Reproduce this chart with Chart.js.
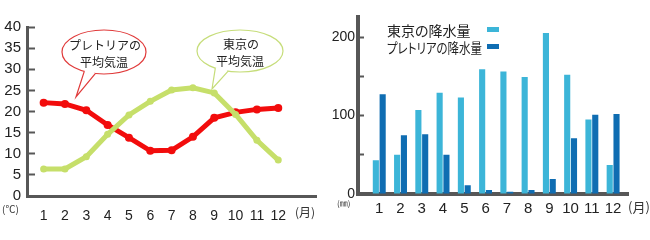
<!DOCTYPE html>
<html>
<head>
<meta charset="utf-8">
<script src="https://cdn.jsdelivr.net/npm/chart.js@4"></script>
<style>
body { margin: 0; background: #fff; width: 650px; height: 240px; position: relative; overflow: hidden; }
.box { position: absolute; top: 0; width: 325px; height: 240px; }
#rain-legend { position: absolute; left: 387px; top: 21px; font-family: "Noto Sans CJK JP", sans-serif; font-size: 14px; color: #222; font-feature-settings: "palt"; }
#rain-legend .row { display: flex; align-items: center; height: 17px; }
#rain-legend .cell { width: 100px; overflow: visible; }
#rain-legend .txt { display: inline-block; line-height: 17px; white-space: nowrap; transform-origin: left center; }
#rain-legend .sw { width: 12px; height: 5px; }
</style>
</head>
<body>
<div class="box" style="left:0"><canvas id="tempChart" width="325" height="240"></canvas></div>
<div class="box" style="left:325px"><canvas id="rainChart" width="325" height="240"></canvas></div>
<div id="rain-legend"></div>
<script>
// months / ticks
const months = [1, 2, 3, 4, 5, 6, 7, 8, 9, 10, 11, 12];
const tempTicks = [0, 5, 10, 15, 20, 25, 30, 35, 40];
const rainTicks = [0, 50, 100, 150, 200];

// 平均気温 (℃)
const pretoriaTemp = [22.1, 21.8, 20.3, 16.8, 13.8, 10.7, 10.8, 14.0, 18.5, 19.8, 20.5, 20.8];
const tokyoTemp = [6.4, 6.4, 9.3, 14.6, 19.2, 22.4, 25.1, 25.6, 24.4, 19.3, 13.2, 8.5];

// 降水量 (mm)
const tokyoRain = [43, 50, 107, 129, 123, 159, 156, 149, 205, 152, 95, 37];
const pretoriaRain = [127, 75, 76, 50, 11, 5, 3, 5, 19, 71, 101, 102];

const axisColor = "#575757";
const numFont = "'Liberation Sans', sans-serif";

// speech bubbles on the temperature chart
const bubbles = [
    { lines: ["プレトリアの", "平均気温"], cx: 104, cy: 52, rx: 42, ry: 22, a1: 118, a2: 102, tip: [76, 97], color: "#e03a3a" },
    { lines: ["東京の", "平均気温"], cx: 240, cy: 51, rx: 43, ry: 21, a1: 125, a2: 106, tip: [212, 89], color: "#c6dd7a" }
];

const bubblePlugin = {
    id: "bubbles",
    beforeDatasetsDraw(chart) {
        const ctx = chart.ctx;
        ctx.save();
        bubbles.forEach(b => {
            const p1 = [b.cx + b.rx * Math.cos(b.a1 * Math.PI / 180), b.cy + b.ry * Math.sin(b.a1 * Math.PI / 180)];
            const p2 = [b.cx + b.rx * Math.cos(b.a2 * Math.PI / 180), b.cy + b.ry * Math.sin(b.a2 * Math.PI / 180)];
            ctx.lineWidth = 1.2;
            ctx.strokeStyle = b.color;
            ctx.fillStyle = "#fff";
            ctx.beginPath();
            ctx.ellipse(b.cx, b.cy, b.rx, b.ry, 0, 0, Math.PI * 2);
            ctx.fill();
            ctx.stroke();
            // tail: cover the arc then stroke its two sides
            ctx.beginPath();
            ctx.moveTo(p1[0], p1[1]);
            ctx.lineTo(b.tip[0], b.tip[1]);
            ctx.lineTo(p2[0], p2[1]);
            ctx.lineTo((p1[0] + p2[0]) / 2, (p1[1] + p2[1]) / 2 - 4);
            ctx.closePath();
            ctx.fill();
            ctx.beginPath();
            ctx.moveTo(p1[0], p1[1]);
            ctx.lineTo(b.tip[0], b.tip[1]);
            ctx.lineTo(p2[0], p2[1]);
            ctx.stroke();
            ctx.fillStyle = "#222";
            ctx.font = "12px 'Noto Sans CJK JP', sans-serif";
            ctx.textAlign = "center";
            ctx.textBaseline = "middle";
            ctx.fillText(b.lines[0], b.cx + 1, b.cy - 7);
            ctx.fillText(b.lines[1], b.cx, b.cy + 10);
        });
        ctx.restore();
    }
};

// unit labels (℃, ㎜, 月)
const unitPlugin = {
    id: "units",
    afterDraw(chart, args, opts) {
        const ctx = chart.ctx;
        ctx.save();
        ctx.fillStyle = "#333";
        ctx.textBaseline = "middle";
        ctx.textAlign = "left";
        opts.items.forEach(u => {
            ctx.font = u.font;
            ctx.fillText(u.text, u.x, u.y);
        });
        ctx.restore();
    }
};

new Chart(document.getElementById("tempChart"), {
    type: "line",
    data: {
        datasets: [
            {
                label: "東京の平均気温",
                data: months.map((m, i) => ({ x: m, y: tokyoTemp[i] })),
                borderColor: "#c6df6a",
                backgroundColor: "#c6df6a",
                borderWidth: 5,
                pointRadius: 3.5,
                pointBorderWidth: 0,
                tension: 0
            },
            {
                label: "プレトリアの平均気温",
                data: months.map((m, i) => ({ x: m, y: pretoriaTemp[i] })),
                borderColor: "#f20c0c",
                backgroundColor: "#f20c0c",
                borderWidth: 5,
                pointRadius: 4,
                pointBorderWidth: 0,
                tension: 0
            }
        ]
    },
    options: {
        responsive: false,
        animation: false,
        layout: { padding: { top: 27, right: 9, left: 0, bottom: 0 } },
        plugins: {
            legend: { display: false },
            tooltip: { enabled: false },
            units: {
                items: [
                    { text: "(℃)", x: 2, y: 209, font: "10px 'Noto Sans CJK JP', sans-serif" },
                    { text: "(月)", x: 295, y: 212, font: "12px 'Noto Sans CJK JP', sans-serif" }
                ]
            }
        },
        scales: {
            x: {
                type: "linear",
                min: 0.22,
                max: 13.77,
                afterBuildTicks: s => { s.ticks = months.map(v => ({ value: v })); },
                afterFit: s => { s.height = 44; },
                grid: { display: false },
                border: { display: true, color: axisColor, width: 3 },
                ticks: { padding: 4, color: "#222", font: { family: numFont, size: 14 }, maxRotation: 0, autoSkip: false }
            },
            y: {
                min: 0,
                max: 40,
                afterBuildTicks: s => { s.ticks = tempTicks.map(v => ({ value: v })); },
                afterFit: s => { s.width = 27; },
                grid: { display: true, drawOnChartArea: false, drawTicks: true, tickLength: -8, tickWidth: 2, tickColor: axisColor },
                border: { display: true, color: axisColor, width: 3 },
                ticks: { padding: 14, color: "#222", font: { family: numFont, size: 15 } }
            }
        }
    },
    plugins: [bubblePlugin, unitPlugin]
});

const rainChart = new Chart(document.getElementById("rainChart"), {
    type: "bar",
    data: {
        datasets: [
            {
                label: "東京の降水量",
                data: months.map((m, i) => ({ x: m, y: tokyoRain[i] })),
                backgroundColor: "#3cb5d8",
                categoryPercentage: 0.64,
                barPercentage: 0.9
            },
            {
                label: "プレトリアの降水量",
                data: months.map((m, i) => ({ x: m, y: pretoriaRain[i] })),
                backgroundColor: "#0f6db2",
                categoryPercentage: 0.64,
                barPercentage: 0.9
            }
        ]
    },
    options: {
        responsive: false,
        animation: false,
        layout: { padding: { top: 16, right: 22, left: 0, bottom: 0 } },
        plugins: {
            legend: { display: false },
            tooltip: { enabled: false },
            units: {
                items: [
                    { text: "(㎜)", x: 12, y: 203, font: "8px 'Noto Sans CJK JP', sans-serif" },
                    { text: "(月)", x: 303, y: 207, font: "13px 'Noto Sans CJK JP', sans-serif" }
                ]
            }
        },
        scales: {
            x: {
                type: "linear",
                offset: false,
                min: 0,
                max: 12.7,
                afterBuildTicks: s => { s.ticks = months.map(v => ({ value: v })); },
                afterFit: s => { s.height = 46; },
                grid: { display: false },
                border: { display: true, color: axisColor, width: 4 },
                ticks: { padding: -2, color: "#222", font: { family: numFont, size: 15 }, maxRotation: 0, autoSkip: false }
            },
            y: {
                min: 0,
                max: 225,
                afterBuildTicks: s => { s.ticks = rainTicks.map(v => ({ value: v })); },
                afterFit: s => { s.width = 33; },
                grid: { display: true, drawOnChartArea: false, drawTicks: true, tickLength: -6, tickWidth: 2, tickColor: axisColor },
                border: { display: true, color: axisColor, width: 4 },
                ticks: {
                    padding: 9,
                    color: "#222",
                    font: { family: numFont, size: 14 },
                    callback: v => (v % 100 === 0 ? String(v) : "")
                }
            }
        }
    },
    plugins: [unitPlugin]
});

// legend: label then swatch, built from the datasets
const legendBox = document.getElementById("rain-legend");
rainChart.data.datasets.forEach(ds => {
    const row = document.createElement("div");
    row.className = "row";
    row.innerHTML = `<span class="cell"><span class="txt">${ds.label}</span></span><span class="sw" style="background:${ds.backgroundColor}"></span>`;
    legendBox.appendChild(row);
    const txt = row.querySelector(".txt");
    const w = txt.getBoundingClientRect().width;
    if (w > 95) txt.style.transform = `scaleX(${95 / w})`;
});
</script>
</body>
</html>
